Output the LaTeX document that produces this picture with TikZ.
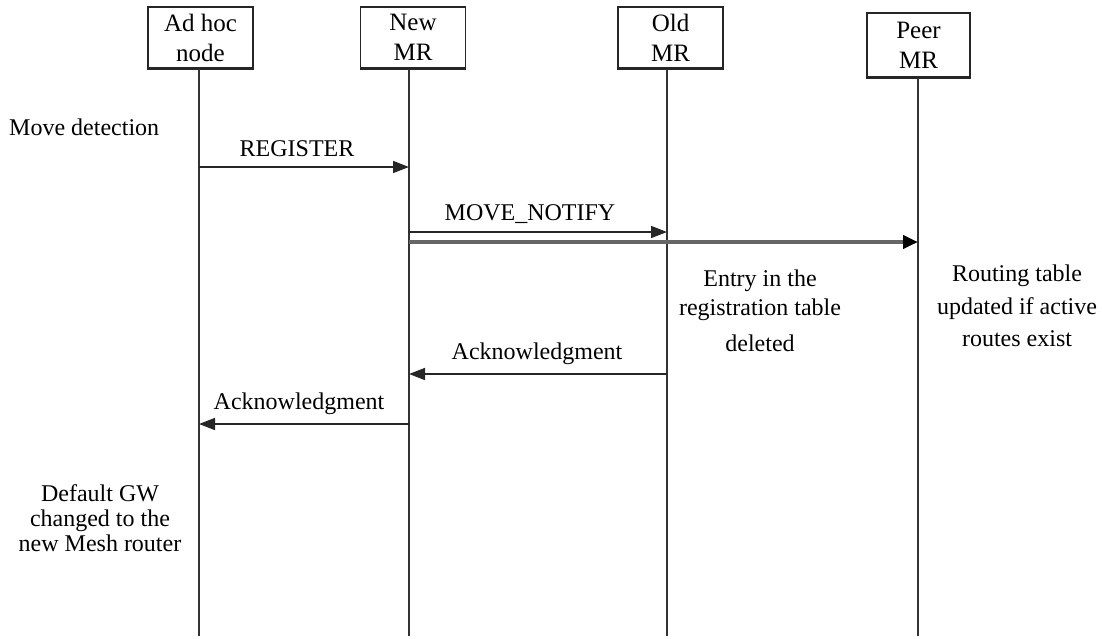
\documentclass[tikz,border=0pt]{standalone}
\usepackage{fontspec}
\setmainfont{Liberation Serif}
\usetikzlibrary{arrows.meta}
\begin{document}
\begin{tikzpicture}[x=1pt,y=-1pt,
  actor/.style={draw=black!85, line width=1.4pt, fill=white, minimum width=105pt,
    minimum height=61pt, align=center, font=\fontsize{25}{30}\selectfont, inner sep=0pt},
  boxshade/.style={draw=black!85, line width=2.2pt},
  life/.style={draw=black!80, line width=2pt},
  msg/.style={draw=black!85, line width=1.6pt, -{Triangle[length=16pt,width=12pt]}},
  bigmsg/.style={draw=black!60, line width=4pt, -{Triangle[length=15pt,width=13pt,fill=black,color=black]}},
  lbl/.style={font=\fontsize{24}{28}\selectfont, inner sep=0pt},
  note/.style={align=center, inner sep=0pt}]
\useasboundingbox (0,0) rectangle (1102,638);

% participants
\node[actor] (adhoc) at (200.5,37.5) {Ad hoc\\node};
\node[actor] (newmr) at (413,37.5) {New\\MR};
\node[actor] (oldmr) at (670.5,37.5) {Old\\MR};
\node[actor, minimum width=103pt, minimum height=64pt] (peermr) at (918.5,45) {Peer\\MR};

% heavier lower edge of each box
\foreach \b in {adhoc,newmr,oldmr,peermr}
  \draw[boxshade] (\b.south west) -- (\b.south east);

% lifeline ends
\coordinate (adhocEnd) at (199,636);
\coordinate (newEnd) at (409,636);
\coordinate (oldEnd) at (667,636);
\coordinate (peerEnd) at (918,636);

\draw[life] (adhoc.south -| adhocEnd) -- (adhocEnd);
\draw[life] (newmr.south -| newEnd) -- (newEnd);
\draw[life] (oldmr.south -| oldEnd) -- (oldEnd);
\draw[life] (peermr.south -| peerEnd) -- (peerEnd);

% message anchor points on the lifelines
\coordinate (regA) at (199,167);  \coordinate (regN) at (409,167);
\coordinate (mvN) at (409,232);   \coordinate (mvO) at (667,232);
\coordinate (pN) at (409,242);    \coordinate (pP) at (918,242);
\coordinate (ackO) at (667,374);  \coordinate (ackN) at (409,374);
\coordinate (ack2N) at (409,424); \coordinate (ack2A) at (199,424);

\draw[msg] (regA) -- (regN);
\draw[msg] (mvN) -- (mvO);
\draw[bigmsg] (pN) -- (pP);
\draw[msg] (ackO) -- (ackN);
\draw[msg] (ack2N) -- (ack2A);

% message labels
\node[lbl] (lreg) at (297,149) {REGISTER};
\node[lbl] (lmv) at (530,214) {MOVE\_NOTIFY};
\node[lbl] (lack) at (537,354) {Acknowledgment};
\node[lbl] (lack2) at (299,404) {Acknowledgment};

% local actions
\node[lbl, anchor=west] (move) at (9,127) {Move detection};
\node[note, font=\fontsize{24}{29}\selectfont] (entry) at (760,311)
  {Entry in the\\registration table\\[7pt]deleted};
\node[note, font=\fontsize{24}{32.5}\selectfont] (routing) at (1017,306)
  {Routing table\\updated if active\\routes exist};
\node[note, font=\fontsize{24}{25}\selectfont] (gw) at (100,518)
  {Default GW\\changed to the\\new Mesh router};
\end{tikzpicture}
\end{document}
